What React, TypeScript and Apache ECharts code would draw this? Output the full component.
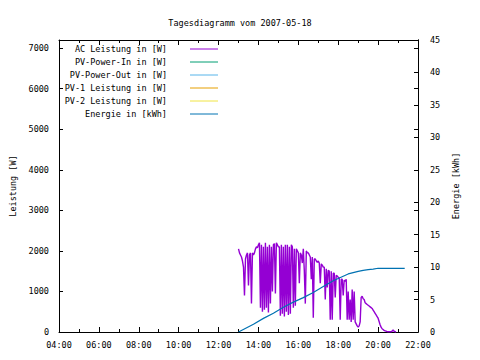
import React, { useEffect, useRef } from "react";
import * as echarts from "echarts";

const chartTitle = "Tagesdiagramm vom 2007-05-18";
const leftAxisName = "Leistung [W]";
const rightAxisName = "Energie [kWh]";

const legendNames = [
  "AC Leistung in [W]",
  "PV-Power-In in [W]",
  "PV-Power-Out in [W]",
  "PV-1 Leistung in [W]",
  "PV-2 Leistung in [W]",
  "Energie in [kWh]",
];
const legendColors = ["#9400D3", "#009E73", "#56B4E9", "#E69F00", "#F0E442", "#0072B2"];

const acTimes = [
  "13:00","13:03","13:06","13:09","13:12","13:15","13:18","13:21","13:24","13:27","13:30","13:33","13:36","13:39","13:42","13:45","13:48","13:51","13:54","13:57",
  "14:00","14:03","14:06","14:09","14:12","14:15","14:18","14:21","14:24","14:27","14:30","14:33","14:36","14:39","14:42","14:45","14:48","14:51","14:54","14:57",
  "15:00","15:03","15:06","15:09","15:12","15:15","15:18","15:21","15:24","15:27","15:30","15:33","15:36","15:39","15:42","15:45","15:48","15:51","15:54","15:57",
  "16:00","16:03","16:06","16:09","16:12","16:15","16:18","16:21","16:24","16:27","16:30","16:33","16:36","16:39","16:42","16:45","16:48","16:51","16:54","16:57",
  "17:00","17:03","17:06","17:09","17:12","17:15","17:18","17:21","17:24","17:27","17:30","17:33","17:36","17:39","17:42","17:45","17:48","17:51","17:54","17:57",
  "18:00","18:03","18:06","18:09","18:12","18:15","18:18","18:21","18:24","18:27","18:30","18:33","18:36","18:39","18:42","18:45","18:48","18:51","18:54","18:57",
  "19:00","19:03","19:06","19:09","19:12","19:15","19:18","19:21","19:24","19:27","19:30","19:33","19:36","19:39","19:42","19:45","19:48","19:51","19:54","19:57",
  "20:00","20:03","20:06","20:09","20:12","20:15","20:18","20:21","20:24","20:27","20:30","20:33","20:36","20:39","20:42","20:45","20:48","20:51","20:54",
];
const acValues = [
  2050,1950,1900,1850,1750,1600,900,1800,1900,1950,1150,1900,1950,700,1950,1900,1950,2050,2100,2080,
  2150,2200,600,2150,500,2100,550,2200,600,2100,480,2150,700,2100,1000,2150,2180,950,2200,2150,
  2100,2100,400,2150,450,2100,380,2150,500,2150,420,2100,450,2150,2100,600,2050,650,2050,2000,
  1950,1200,1950,1900,1700,2050,1500,700,2000,1950,1950,1900,1850,1300,1850,350,1800,1800,1750,1720,
  1750,1700,1200,1680,1650,1600,1600,800,1560,1100,1520,1500,300,1500,300,1450,1450,850,1400,1380,
  1350,1330,300,1300,1300,900,1280,1250,1300,300,1000,300,800,250,1050,300,1000,250,200,150,
  120,150,250,850,880,820,800,720,700,680,660,640,620,600,580,540,500,460,420,380,
  340,260,180,120,80,60,40,30,20,10,5,5,5,5,20,50,20,5,0,
];

const energyTimes = ["13:00","13:45","14:15","14:45","15:15","15:45","16:15","16:45","17:15","17:45","18:15","18:30","18:45","19:00","19:15","19:30","19:45","20:00","21:20"];
const energyValues = [0, 1.2, 2.1, 2.9, 3.8, 4.6, 5.3, 6.1, 7.0, 7.9, 8.6, 8.95, 9.15, 9.35, 9.5, 9.6, 9.7, 9.82, 9.82];

const xMin = 4, xMax = 22, xStep = 2;
const yLeftMax = 7200, yLeftStep = 1000;
const yRightMax = 45, yRightStep = 5;

const FONT = "DejaVu Sans Mono";
const FS = 8.5;

function toHours(t: string): number {
  const [h, m] = t.split(":").map(Number);
  return h + m / 60;
}

export default function App() {
  const ref = useRef<HTMLDivElement>(null);
  useEffect(() => {
    if (!ref.current) return;
    document.body.style.margin = "0";
    const chart = echarts.init(ref.current, undefined, { renderer: "svg" });
    const textStyle = { fontFamily: FONT, fontSize: FS, color: "#000" };
    const axisLine = { show: true, onZero: false, lineStyle: { color: "#000", width: 1 } };

    const legendTop = 49;
    const legendGap = 13;
    const legendGraphics: any[] = [];
    legendNames.forEach((n, i) => {
      const y = legendTop + i * legendGap;
      legendGraphics.push({
        type: "text",
        x: 167,
        y,
        style: {
          text: n,
          align: "right",
          verticalAlign: "middle",
          textAlign: "right",
          textVerticalAlign: "middle",
          font: `${FS}px "${FONT}"`,
          fill: "#000",
        },
      });
      legendGraphics.push({
        type: "line",
        shape: { x1: 190, y1: y, x2: 218, y2: y },
        style: { stroke: legendColors[i], lineWidth: 1 },
      });
    });

    chart.setOption({
      animation: false,
      backgroundColor: "#fff",
      title: {
        text: chartTitle,
        left: "center",
        top: 13,
        textStyle: { ...textStyle, fontWeight: "normal" },
      },
      grid: { left: 58, right: 62, top: 40, bottom: 28, show: false, containLabel: false },
      xAxis: [
        {
          type: "value",
          min: xMin,
          max: xMax,
          interval: xStep,
          position: "bottom",
          axisLine,
          axisTick: { show: true, inside: true, length: 5, lineStyle: { color: "#000" } },
          minorTick: { show: true, splitNumber: 2, length: 3, lineStyle: { color: "#000" } },
          splitLine: { show: false },
          axisLabel: {
            ...textStyle,
            margin: 8,
            formatter: (v: number) => `${String(v).padStart(2, "0")}:00`,
          },
        },
        {
          type: "value",
          min: xMin,
          max: xMax,
          interval: xStep,
          position: "top",
          axisLine,
          axisTick: { show: true, inside: true, length: 5, lineStyle: { color: "#000" } },
          minorTick: { show: true, splitNumber: 2, length: 3, lineStyle: { color: "#000" } },
          splitLine: { show: false },
          axisLabel: { show: false },
        },
      ],
      yAxis: [
        {
          type: "value",
          min: 0,
          max: yLeftMax,
          interval: yLeftStep,
          position: "left",
          name: leftAxisName,
          nameLocation: "middle",
          nameGap: 42,
          nameTextStyle: textStyle,
          axisLine,
          axisTick: { show: true, inside: true, length: 4, lineStyle: { color: "#000" } },
          splitLine: { show: false },
          axisLabel: {
            ...textStyle,
            margin: 10,
            formatter: (v: number) => (v % yLeftStep === 0 ? String(v) : ""),
          },
        },
        {
          type: "value",
          min: 0,
          max: yRightMax,
          interval: yRightStep,
          position: "right",
          name: rightAxisName,
          nameLocation: "middle",
          nameGap: 30,
          nameRotate: 90,
          nameTextStyle: textStyle,
          axisLine,
          axisTick: { show: true, inside: true, length: 4, lineStyle: { color: "#000" } },
          splitLine: { show: false },
          axisLabel: { ...textStyle, margin: 12 },
        },
        {
          type: "value",
          min: 0,
          max: yLeftMax,
          interval: yLeftStep,
          position: "right",
          axisLine,
          axisTick: { show: true, inside: true, length: 4, lineStyle: { color: "#000" } },
          splitLine: { show: false },
          axisLabel: { show: false },
        },
      ],
      series: [
        {
          name: legendNames[0],
          type: "line",
          xAxisIndex: 0,
          yAxisIndex: 0,
          showSymbol: false,
          symbol: "none",
          lineStyle: { color: legendColors[0], width: 1.4 },
          data: acTimes.map((t, i) => [toHours(t), acValues[i]]),
        },
        {
          name: legendNames[5],
          type: "line",
          xAxisIndex: 0,
          yAxisIndex: 1,
          showSymbol: false,
          symbol: "none",
          lineStyle: { color: legendColors[5], width: 1.2 },
          data: energyTimes.map((t, i) => [toHours(t), energyValues[i]]),
        },
      ],
      graphic: legendGraphics,
    });
    return () => chart.dispose();
  }, []);
  return <div ref={ref} style={{ width: 480, height: 360 }} />;
}
